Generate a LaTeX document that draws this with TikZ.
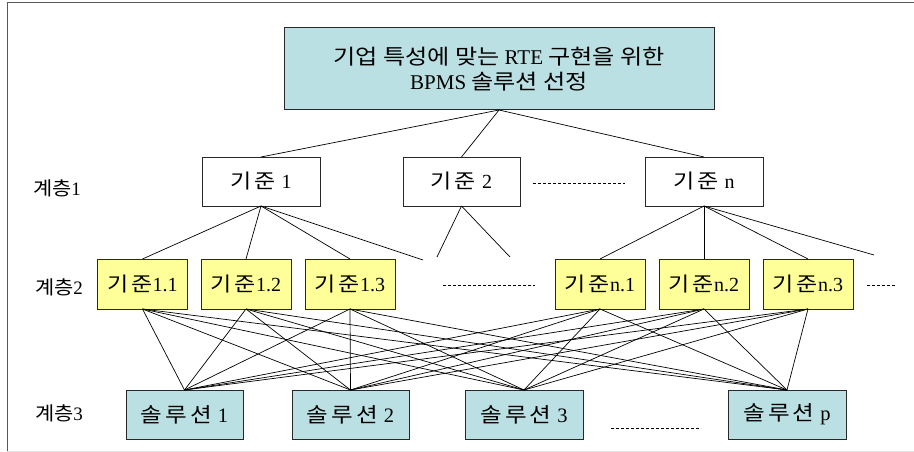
\documentclass[tikz,border=0pt]{standalone}
\usepackage{fontspec}
\setmainfont{Liberation Serif}
\newfontfamily\kr[FakeStretch=1.15,LetterSpace=15]{Noto Sans CJK KR}
\newfontfamily\krt[FakeStretch=1.15]{Noto Sans CJK KR}
\newfontfamily\krl[FakeStretch=1.1]{Noto Sans CJK KR}
\newcommand\gap{\hspace{6pt}}
\newcommand\tgap{\hspace{5pt}}
\definecolor{teal1}{RGB}{187,224,227}
\definecolor{yel1}{RGB}{255,255,153}
\definecolor{bord}{RGB}{40,40,40}
\tikzset{
  box/.style={draw=bord, line width=1pt, inner sep=0pt, outer sep=0pt, align=center},
  topbox/.style={box, fill=teal1, minimum width=430pt, minimum height=82pt, font=\fontsize{21}{25}\selectfont},
  l1box/.style={box, fill=white, minimum width=118pt, minimum height=49pt, font=\fontsize{20}{24}\selectfont},
  l2box/.style={box, fill=yel1, minimum width=90pt, minimum height=50pt, font=\fontsize{20}{24}\selectfont},
  l3box/.style={box, fill=teal1, minimum width=117pt, minimum height=49pt, font=\fontsize{20.5}{24}\selectfont},
  lvl/.style={inner sep=0pt, font=\fontsize{19}{22}\selectfont},
  link/.style={draw=black, line width=0.7pt},
  dots/.style={draw=black, line width=1pt, dash pattern=on 3pt off 2pt}
}
\begin{document}
\begin{tikzpicture}[x=1pt,y=-1pt]
\useasboundingbox (0,0) rectangle (914,452);
% frame
\draw[gray!70!black, line width=1pt] (7,452) -- (7,3) -- (914,3);
\draw[gray!20, line width=1pt] (7,451) -- (914,451);

\node[topbox] (top) at (499,69) {{\krt 기업 특성에 맞는}\tgap RTE\tgap{\krt 구현을 위한}\\BPMS\tgap{\krt 솔루션 선정}};

\node[l1box] (k1) at (261,181.5) {{\kr 기준}\gap 1};
\node[l1box, minimum width=117pt] (k2) at (461.5,181.5) {{\kr 기준}\gap 2};
\node[l1box] (kn) at (704,181.5) {{\kr 기준}\gap n};

\node[l2box] (k11) at (142.5,284) {{\kr 기준}1.1};
\node[l2box] (k12) at (246,284) {{\kr 기준}1.2};
\node[l2box] (k13) at (350,284) {{\kr 기준}1.3};
\node[l2box] (kn1) at (600,284) {{\kr 기준}n.1};
\node[l2box] (kn2) at (704,284) {{\kr 기준}n.2};
\node[l2box] (kn3) at (808,284) {{\kr 기준}n.3};

\node[l3box] (s1) at (184.5,414.5) {{\kr 솔루션}\gap 1};
\node[l3box] (s2) at (350.5,414.5) {{\kr 솔루션}\gap 2};
\node[l3box, minimum width=118pt] (s3) at (524,414.5) {{\kr 솔루션}\gap 3};
\node[l3box, minimum width=118pt] (sp) at (787,414.5) {{\kr 솔루션}\gap p};

\node[lvl] (h1) at (57,188) {{\krl 계층}1};
\node[lvl] (h2) at (59,287) {{\krl 계층}2};
\node[lvl] (h3) at (59,413) {{\krl 계층}3};

% free ends
\coordinate (f1) at (423,260);
\coordinate (f2a) at (437,257);
\coordinate (f2b) at (510,257);
\coordinate (fn) at (874,255);
\coordinate (d1a) at (533,183); \coordinate (d1b) at (625,183);
\coordinate (d2a) at (443,285); \coordinate (d2b) at (535,285);
\coordinate (d3a) at (867,285); \coordinate (d3b) at (895,285);
\coordinate (d4a) at (611,428); \coordinate (d4b) at (701,428);

% level 0 -> 1
\foreach \t in {k1,k2,kn} \draw[link] (top.south) -- (\t.north);
% level 1 -> 2
\foreach \t in {k11,k12,k13} \draw[link] (k1.south) -- (\t.north);
\draw[link] (k1.south) -- (f1);
\draw[link] (k2.south) -- (f2a);
\draw[link] (k2.south) -- (f2b);
\foreach \t in {kn1,kn2,kn3} \draw[link] (kn.south) -- (\t.north);
\draw[link] (kn.south) -- (fn);
% level 2 -> 3
\foreach \a in {k11,k12,k13,kn1,kn2,kn3}
  \foreach \b in {s1,s2,s3,sp}
    \draw[link] (\a.south) -- (\b.north);

\draw[dots] (d1a) -- (d1b);
\draw[dots] (d2a) -- (d2b);
\draw[dots] (d3a) -- (d3b);
\draw[dots] (d4a) -- (d4b);
\end{tikzpicture}
\end{document}
